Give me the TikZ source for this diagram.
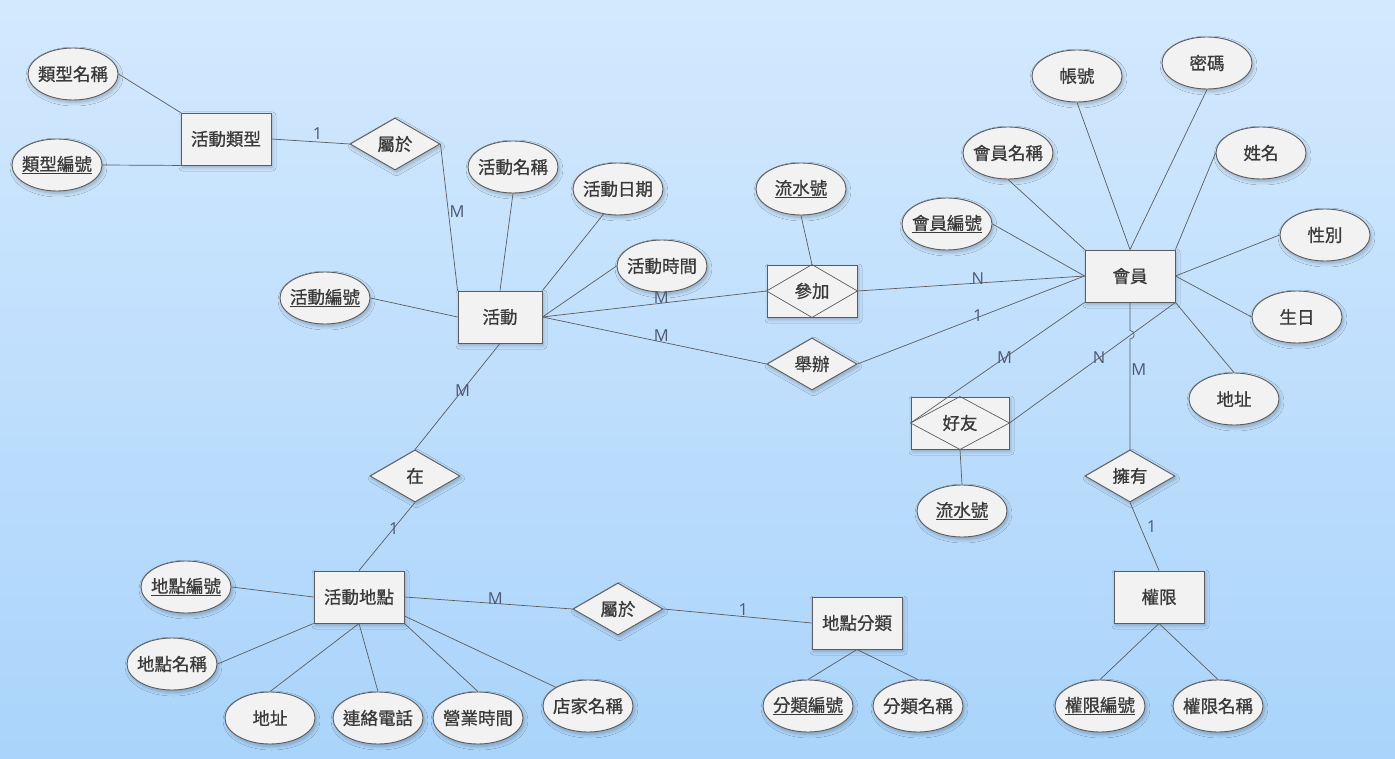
\documentclass[tikz,border=0pt]{standalone}
\usepackage{fontspec}
\newfontfamily\cjk{Noto Sans CJK TC}[FakeBold=0.9]
\newfontfamily\cardfont{Open Sans}
\usetikzlibrary{shapes.geometric,shadows.blur}
\definecolor{bgtop}{HTML}{D3E9FE}
\definecolor{bgbot}{HTML}{AAD4FB}
\definecolor{nodef}{HTML}{F2F2F2}
\definecolor{linec}{HTML}{5C5C5C}
\definecolor{txtc}{HTML}{3A3A3A}
\definecolor{cardc}{HTML}{4E5873}
\tikzset{
  shad/.style={blur shadow={shadow blur steps=6, shadow xshift=1.5pt, shadow yshift=-2.5pt, shadow opacity=25, shadow blur radius=3.5pt}},
  base/.style={draw=linec, line width=0.9pt, fill=nodef, inner sep=0pt, text=txtc, font=\cjk\fontsize{17.5}{20}\selectfont, shad},
  attr/.style={base, ellipse, inner xsep=-16pt, minimum width=90pt, minimum height=52pt},
  ent/.style={base, rectangle, minimum width=90pt, minimum height=52pt},
  rel/.style={base, diamond, minimum width=90pt, minimum height=52pt},
  conn/.style={draw=linec, line width=0.7pt},
  card/.style={text=cardc, font=\cardfont\fontsize{16.5}{18}\selectfont, inner sep=0pt},
  inner/.style={draw=linec, line width=0.7pt},
  lbl/.style={text=txtc, font=\cjk\fontsize{17.5}{20}\selectfont, inner sep=0pt}
}
\begin{document}
\begin{tikzpicture}[x=1pt,y=-1pt]
\shade[top color=bgtop, bottom color=bgbot] (0,0) rectangle (1395,759);
\useasboundingbox (0,0) rectangle (1395,759);

% nodes
\node[attr] (tname) at (73,74) {類型名稱};
\node[attr] (tid) at (57,165) {\underline{類型編號}};
\node[ent] (atype) at (226,139) {活動類型};
\node[rel] (belong1) at (395,144) {屬於};
\node[attr] (aname) at (513,167) {活動名稱};
\node[attr] (adate) at (618,189) {活動日期};
\node[attr] (atime) at (662,266) {活動時間};
\node[attr] (aid) at (325,298) {\underline{活動編號}};
\node[ent, minimum width=84pt] (act) at (500,317) {活動};
\node[attr] (serial1) at (801,189) {\underline{流水號}};
\node[ent] (join) at (812,291) {};
\node[rel] (host) at (812,364) {舉辦};
\node[ent] (mem) at (1130,276) {會員};
\node[attr] (acct) at (1077,76) {帳號};
\node[attr] (pwd) at (1207,63) {密碼};
\node[attr] (mname) at (1008,153) {會員名稱};
\node[attr] (realname) at (1261,153) {姓名};
\node[attr] (mid) at (947,224) {\underline{會員編號}};
\node[attr] (sex) at (1325,235) {性別};
\node[attr] (birth) at (1297,317) {生日};
\node[attr] (maddr) at (1234,399) {地址};
\node[ent, minimum width=98pt] (friend) at (960,423) {};
\node[attr] (serial2) at (962,511) {\underline{流水號}};
\node[rel] (own) at (1130,476) {擁有};
\node[ent] (perm) at (1159,597) {權限};
\node[attr] (pid) at (1100,706) {\underline{權限編號}};
\node[attr] (pname) at (1218,706) {權限名稱};
\node[rel] (at) at (415,476) {在};
\node[ent] (place) at (359,597) {活動地點};
\node[attr] (plid) at (186,587) {\underline{地點編號}};
\node[attr] (plname) at (172,664) {地點名稱};
\node[attr] (pladdr) at (270,718) {地址};
\node[attr] (tel) at (378,718) {連絡電話};
\node[attr] (hours) at (478,718) {營業時間};
\node[attr] (shop) at (588,706) {店家名稱};
\node[rel] (belong2) at (618,609) {屬於};
\node[ent] (pcat) at (857,623) {地點分類};
\node[attr] (cid) at (808,706) {\underline{分類編號}};
\node[attr] (cname) at (918,706) {分類名稱};

% weak relationship diamonds inside rectangles
\draw[inner] (join.west) -- (join.north) -- (join.east) -- (join.south) -- cycle;
\node[lbl] (joinlbl) at (join.center) {參加};
\draw[inner] (friend.west) -- (friend.north) -- (friend.east) -- (friend.south) -- cycle;
\node[lbl] (friendlbl) at (friend.center) {好友};

% ---------- connectors ----------
\draw[conn] (tname.east) -- (atype.north west);
\draw[conn] (tid.east) -- (atype.south west);
\draw[conn] (atype.east) -- node[card, pos=0.59, above=2pt] (c1) {1} (belong1.west);
\draw[conn] (belong1.east) -- node[card, pos=0.46, right=1pt] (c2) {M} (act.north west);
\draw[conn] (aname.south) -- (act.north);
\draw[conn] (adate.240) -- (act.north east);
\draw[conn] (atime.west) -- (act.east);
\draw[conn] (aid.east) -- (act.west);
\draw[conn] (act.east) -- node[card, pos=0.53, above=-1pt] (c3) {M} (join.west);
\draw[conn] (act.east) -- node[card, pos=0.53, above=0pt] (c4) {M} (host.west);
\draw[conn] (serial1.south) -- (join.north);
\draw[conn] (join.east) -- node[card, pos=0.53, above=-2pt] (c5) {N} (mem.west);
\draw[conn] (host.east) -- node[card, pos=0.53, above=-4pt] (c6) {1} (mem.west);
\draw[conn] (acct.south) -- (mem.north);
\draw[conn] (pwd.south) -- (mem.north);
\draw[conn] (mname.south) -- (mem.north west);
\draw[conn] (realname.west) -- (mem.north east);
\draw[conn] (mid.east) -- (mem.west);
\draw[conn] (sex.west) -- (mem.east);
\draw[conn] (birth.west) -- (mem.east);
\draw[conn] (maddr.north) -- (mem.south east);
\draw[conn] (mem.south west) -- node[card, pos=0.46] (c7) {M} (friend.west);
\draw[conn] (mem.south east) -- node[card, pos=0.46] (c8) {N} (friend.east);
\coordinate (hopA) at (1130,330.5);
\coordinate (hopB) at (1130,339);
\draw[conn] (mem.south) -- (hopA) .. controls +(5.5,0) and +(5.5,0) .. (hopB) -- node[card, pos=0.28, right=1pt] (c9) {M} (own.north);
\draw[conn] (own.south) -- node[card, pos=0.36, right=6pt] (c10) {1} (perm.north);
\draw[conn] (perm.south) -- (pid.north);
\draw[conn] (perm.south) -- (pname.north);
\draw[conn] (friend.south) -- (serial2.north);
\draw[conn] (act.south) -- node[card, pos=0.44] (c11) {M} (at.north);
\draw[conn] (at.south) -- node[card, pos=0.38] (c12) {1} (place.north);
\draw[conn] (place.east) -- node[card, pos=0.54, above=-1pt] (c13) {M} (belong2.west);
\draw[conn] (belong2.east) -- node[card, pos=0.54, above=1pt] (c14) {1} (pcat.west);
\draw[conn] (plid.east) -- (place.west);
\draw[conn] (plname.east) -- (place.south west);
\draw[conn] (pladdr.north) -- (place.south);
\draw[conn] (tel.north) -- (place.south);
\draw[conn] (hours.north) -- (place.south east);
\draw[conn] (shop.north west) -- (place.east |- 0,616);
\draw[conn] (pcat.south) -- (cid.north);
\draw[conn] (pcat.south) -- (cname.north);
\end{tikzpicture}
\end{document}
